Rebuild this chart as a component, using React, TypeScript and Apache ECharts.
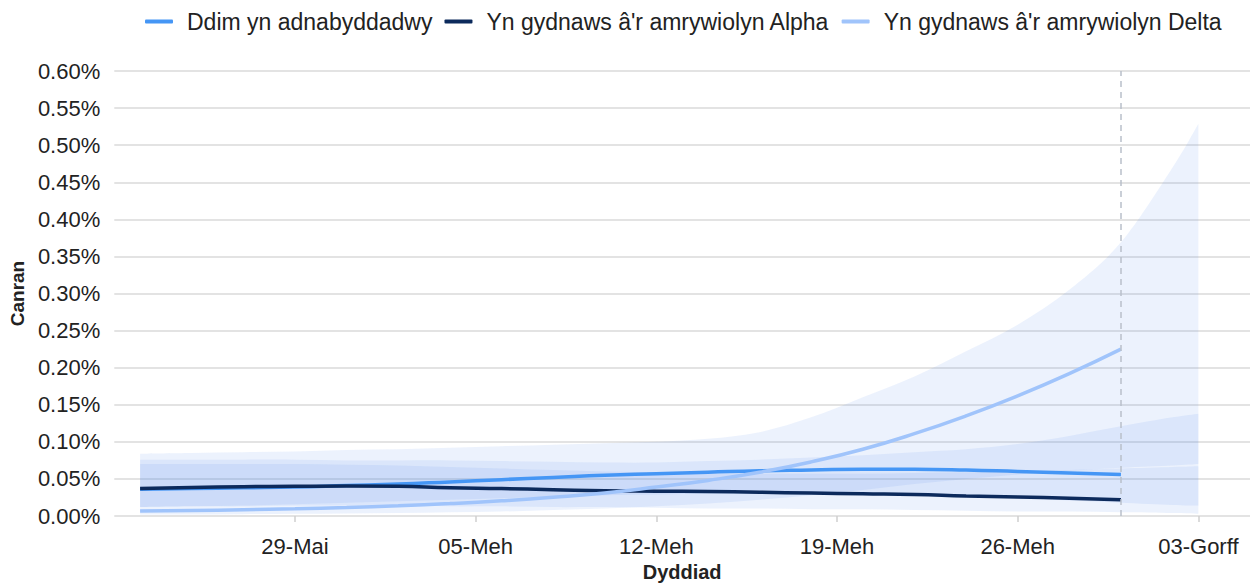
import React, { useEffect, useRef } from "react";
import * as echarts from "echarts";

// Dates (even days from 23 May 2021, plus 3 Jul)
const bandDates = [
  "2021-05-23", "2021-05-25", "2021-05-27", "2021-05-29", "2021-05-31",
  "2021-06-02", "2021-06-04", "2021-06-06", "2021-06-08", "2021-06-10",
  "2021-06-12", "2021-06-14", "2021-06-16", "2021-06-18", "2021-06-20",
  "2021-06-22", "2021-06-24", "2021-06-26", "2021-06-28", "2021-06-30",
  "2021-07-02", "2021-07-03",
];
const lineDates = bandDates.slice(0, 20);
const cutoffDate = "2021-06-30";

const tickDates = ["2021-05-29", "2021-06-05", "2021-06-12", "2021-06-19", "2021-06-26", "2021-07-03"];
const tickLabels = ["29-Mai", "05-Meh", "12-Meh", "19-Meh", "26-Meh", "03-Gorff"];
const axisMinDate = "2021-05-22";
const axisMaxDate = "2021-07-05";

const seriesNames = [
  "Ddim yn adnabyddadwy",
  "Yn gydnaws â'r amrywiolyn Alpha",
  "Yn gydnaws â'r amrywiolyn Delta",
];

// Percent values
const unknownMean = [0.036, 0.037, 0.038, 0.039, 0.041, 0.043, 0.046, 0.049, 0.052, 0.055, 0.057, 0.059, 0.061, 0.062, 0.063, 0.063, 0.062, 0.06, 0.058, 0.056];
const alphaMean = [0.037, 0.0385, 0.0395, 0.04, 0.0405, 0.04, 0.038, 0.037, 0.0355, 0.034, 0.0335, 0.033, 0.032, 0.031, 0.03, 0.029, 0.027, 0.0255, 0.024, 0.022];
const deltaMean = [0.0066, 0.0074, 0.0084, 0.0097, 0.0114, 0.0137, 0.0167, 0.0205, 0.0252, 0.031, 0.039, 0.048, 0.059, 0.073, 0.09, 0.111, 0.135, 0.162, 0.192, 0.225];

const unknownLower = [0.012, 0.013, 0.014, 0.016, 0.018, 0.02, 0.022, 0.024, 0.026, 0.028, 0.029, 0.03, 0.03, 0.03, 0.029, 0.028, 0.026, 0.024, 0.021, 0.018, 0.015, 0.014];
const unknownUpper = [0.076, 0.076, 0.076, 0.076, 0.075, 0.075, 0.075, 0.074, 0.073, 0.072, 0.072, 0.074, 0.076, 0.079, 0.082, 0.086, 0.09, 0.097, 0.108, 0.121, 0.133, 0.138];
const alphaLower = [0.012, 0.013, 0.013, 0.014, 0.014, 0.014, 0.013, 0.013, 0.012, 0.012, 0.011, 0.01, 0.01, 0.009, 0.009, 0.008, 0.007, 0.006, 0.006, 0.005, 0.004, 0.003];
const alphaUpper = [0.07, 0.07, 0.07, 0.07, 0.069, 0.068, 0.066, 0.064, 0.062, 0.06, 0.059, 0.058, 0.057, 0.057, 0.057, 0.058, 0.059, 0.06, 0.062, 0.064, 0.066, 0.067];
const deltaLower = [0.002, 0.002, 0.0025, 0.003, 0.0035, 0.004, 0.005, 0.006, 0.008, 0.01, 0.013, 0.017, 0.022, 0.028, 0.035, 0.043, 0.05, 0.056, 0.061, 0.065, 0.068, 0.07];
const deltaUpper = [0.084, 0.085, 0.086, 0.087, 0.089, 0.09, 0.092, 0.094, 0.096, 0.098, 0.1, 0.104, 0.113, 0.133, 0.16, 0.188, 0.222, 0.258, 0.305, 0.369, 0.47, 0.529];

const yTickMax = 0.6;
const yTickStep = 0.05;

const colors = ["#4596f5", "#0c2a5c", "#a0c4fb"];
const bandColor = "rgba(80,140,235,0.11)";
const FONT = "'Liberation Sans', Arial, Helvetica, sans-serif";

const DAY = 86400000;
const origin = Date.UTC(2021, 4, 29);
function dayOffset(s: string): number {
  const [y, m, d] = s.split("-").map(Number);
  return Math.round((Date.UTC(y, m - 1, d) - origin) / DAY);
}

// Catmull-Rom smoothed open curve appended to a path context
function curveTo(ctx: any, pts: number[][]) {
  const n = pts.length;
  for (let i = 0; i < n - 1; i++) {
    const p0 = pts[Math.max(0, i - 1)];
    const p1 = pts[i];
    const p2 = pts[i + 1];
    const p3 = pts[Math.min(n - 1, i + 2)];
    const c1x = p1[0] + (p2[0] - p0[0]) / 6;
    const c1y = p1[1] + (p2[1] - p0[1]) / 6;
    const c2x = p2[0] - (p3[0] - p1[0]) / 6;
    const c2y = p2[1] - (p3[1] - p1[1]) / 6;
    ctx.bezierCurveTo(c1x, c1y, c2x, c2y, p2[0], p2[1]);
  }
}

let registered = false;
function registerBand() {
  if (registered) return;
  registered = true;
  const Band = echarts.graphic.extendShape({
    shape: { top: [] as number[][], bottom: [] as number[][] },
    buildPath(ctx: any, shape: any) {
      const top = shape.top;
      const bottom = shape.bottom;
      if (!top.length) return;
      ctx.moveTo(top[0][0], top[0][1]);
      curveTo(ctx, top);
      const rb = bottom.slice().reverse();
      ctx.lineTo(rb[0][0], rb[0][1]);
      curveTo(ctx, rb);
      ctx.closePath();
    },
  });
  echarts.graphic.registerShape("ciband", Band);
}

export default function App() {
  const ref = useRef<HTMLDivElement>(null);

  useEffect(() => {
    if (!ref.current) return;
    registerBand();
    const chart = echarts.init(ref.current, undefined, { renderer: "svg" });

    const bx = bandDates.map(dayOffset);
    const lx = lineDates.map(dayOffset);
    const tickX = tickDates.map(dayOffset);

    const bands = [
      { id: "u", lo: unknownLower, hi: unknownUpper },
      { id: "a", lo: alphaLower, hi: alphaUpper },
      { id: "d", lo: deltaLower, hi: deltaUpper },
    ];

    const bandSeries = bands.map((b) => ({
      type: "custom",
      name: "band-" + b.id,
      silent: true,
      z: 1,
      data: bx.map((x, i) => [x, b.lo[i], b.hi[i]]),
      encode: { x: 0, y: [1, 2] },
      renderItem: (params: any, api: any) => {
        if (params.dataIndex !== 0) return null;
        const top: number[][] = [];
        const bottom: number[][] = [];
        for (let i = 0; i < bx.length; i++) {
          top.push(api.coord([bx[i], b.hi[i]]));
          bottom.push(api.coord([bx[i], b.lo[i]]));
        }
        return {
          type: "ciband",
          shape: { top, bottom },
          style: { fill: bandColor, stroke: "none" },
        };
      },
    }));

    const means = [unknownMean, alphaMean, deltaMean];
    const lineSeries = means.map((m, k) => ({
      type: "line",
      name: seriesNames[k],
      data: lx.map((x, i) => [x, m[i]]),
      symbol: "none",
      smooth: true,
      lineStyle: { color: colors[k], width: 3.5 },
      itemStyle: { color: colors[k] },
      z: 3,
      ...(k === 2
        ? {
            markLine: {
              silent: true,
              symbol: "none",
              label: { show: false },
              lineStyle: { type: [6, 5], color: "#b9c0ca", width: 1.5 },
              data: [{ xAxis: dayOffset(cutoffDate) }],
            },
          }
        : {}),
    }));

    chart.setOption({
      animation: false,
      textStyle: { fontFamily: FONT },
      legend: {
        data: seriesNames,
        top: 5,
        left: 140,
        icon: "roundRect",
        itemWidth: 28,
        itemHeight: 4,
        itemGap: 12,
        textStyle: { fontSize: 23, color: "#222", fontFamily: FONT, padding: [0, 0, 0, 9] },
      },
      grid: { left: 113, right: 2, top: 71, bottom: 59 },
      xAxis: {
        type: "value",
        min: dayOffset(axisMinDate),
        max: dayOffset(axisMaxDate),
        name: "Dyddiad",
        nameLocation: "middle",
        nameGap: 46,
        nameTextStyle: { fontSize: 20, fontWeight: "bold", color: "#222", fontFamily: FONT },
        axisLine: { show: false },
        axisTick: { show: true, customValues: tickX, length: 6, lineStyle: { color: "#cfcfcf", width: 1.5 } },
        axisLabel: {
          customValues: tickX,
          fontSize: 22,
          color: "#222",
          margin: 19,
          fontFamily: FONT,
          formatter: (v: number) => {
            const i = tickX.indexOf(Math.round(v));
            return i >= 0 ? tickLabels[i] : "";
          },
        },
        splitLine: { show: false },
      },
      yAxis: {
        type: "value",
        min: 0,
        max: yTickMax,
        interval: yTickStep,
        name: "Canran",
        nameLocation: "middle",
        nameGap: 86,
        nameTextStyle: { fontSize: 19, fontWeight: "bold", color: "#222", fontFamily: FONT },
        axisLine: { show: false },
        axisTick: { show: false },
        axisLabel: {
          fontSize: 22,
          color: "#222",
          margin: 14,
          fontFamily: FONT,
          formatter: (v: number) => v.toFixed(2) + "%",
        },
        splitLine: { show: true, lineStyle: { color: "#dadada", width: 1.5 } },
      },
      series: [...bandSeries, ...lineSeries],
    });

    return () => chart.dispose();
  }, []);

  return (
    <div
      ref={ref}
      style={{ position: "fixed", left: 0, top: 0, width: 1252, height: 587, background: "#fff" }}
    />
  );
}
